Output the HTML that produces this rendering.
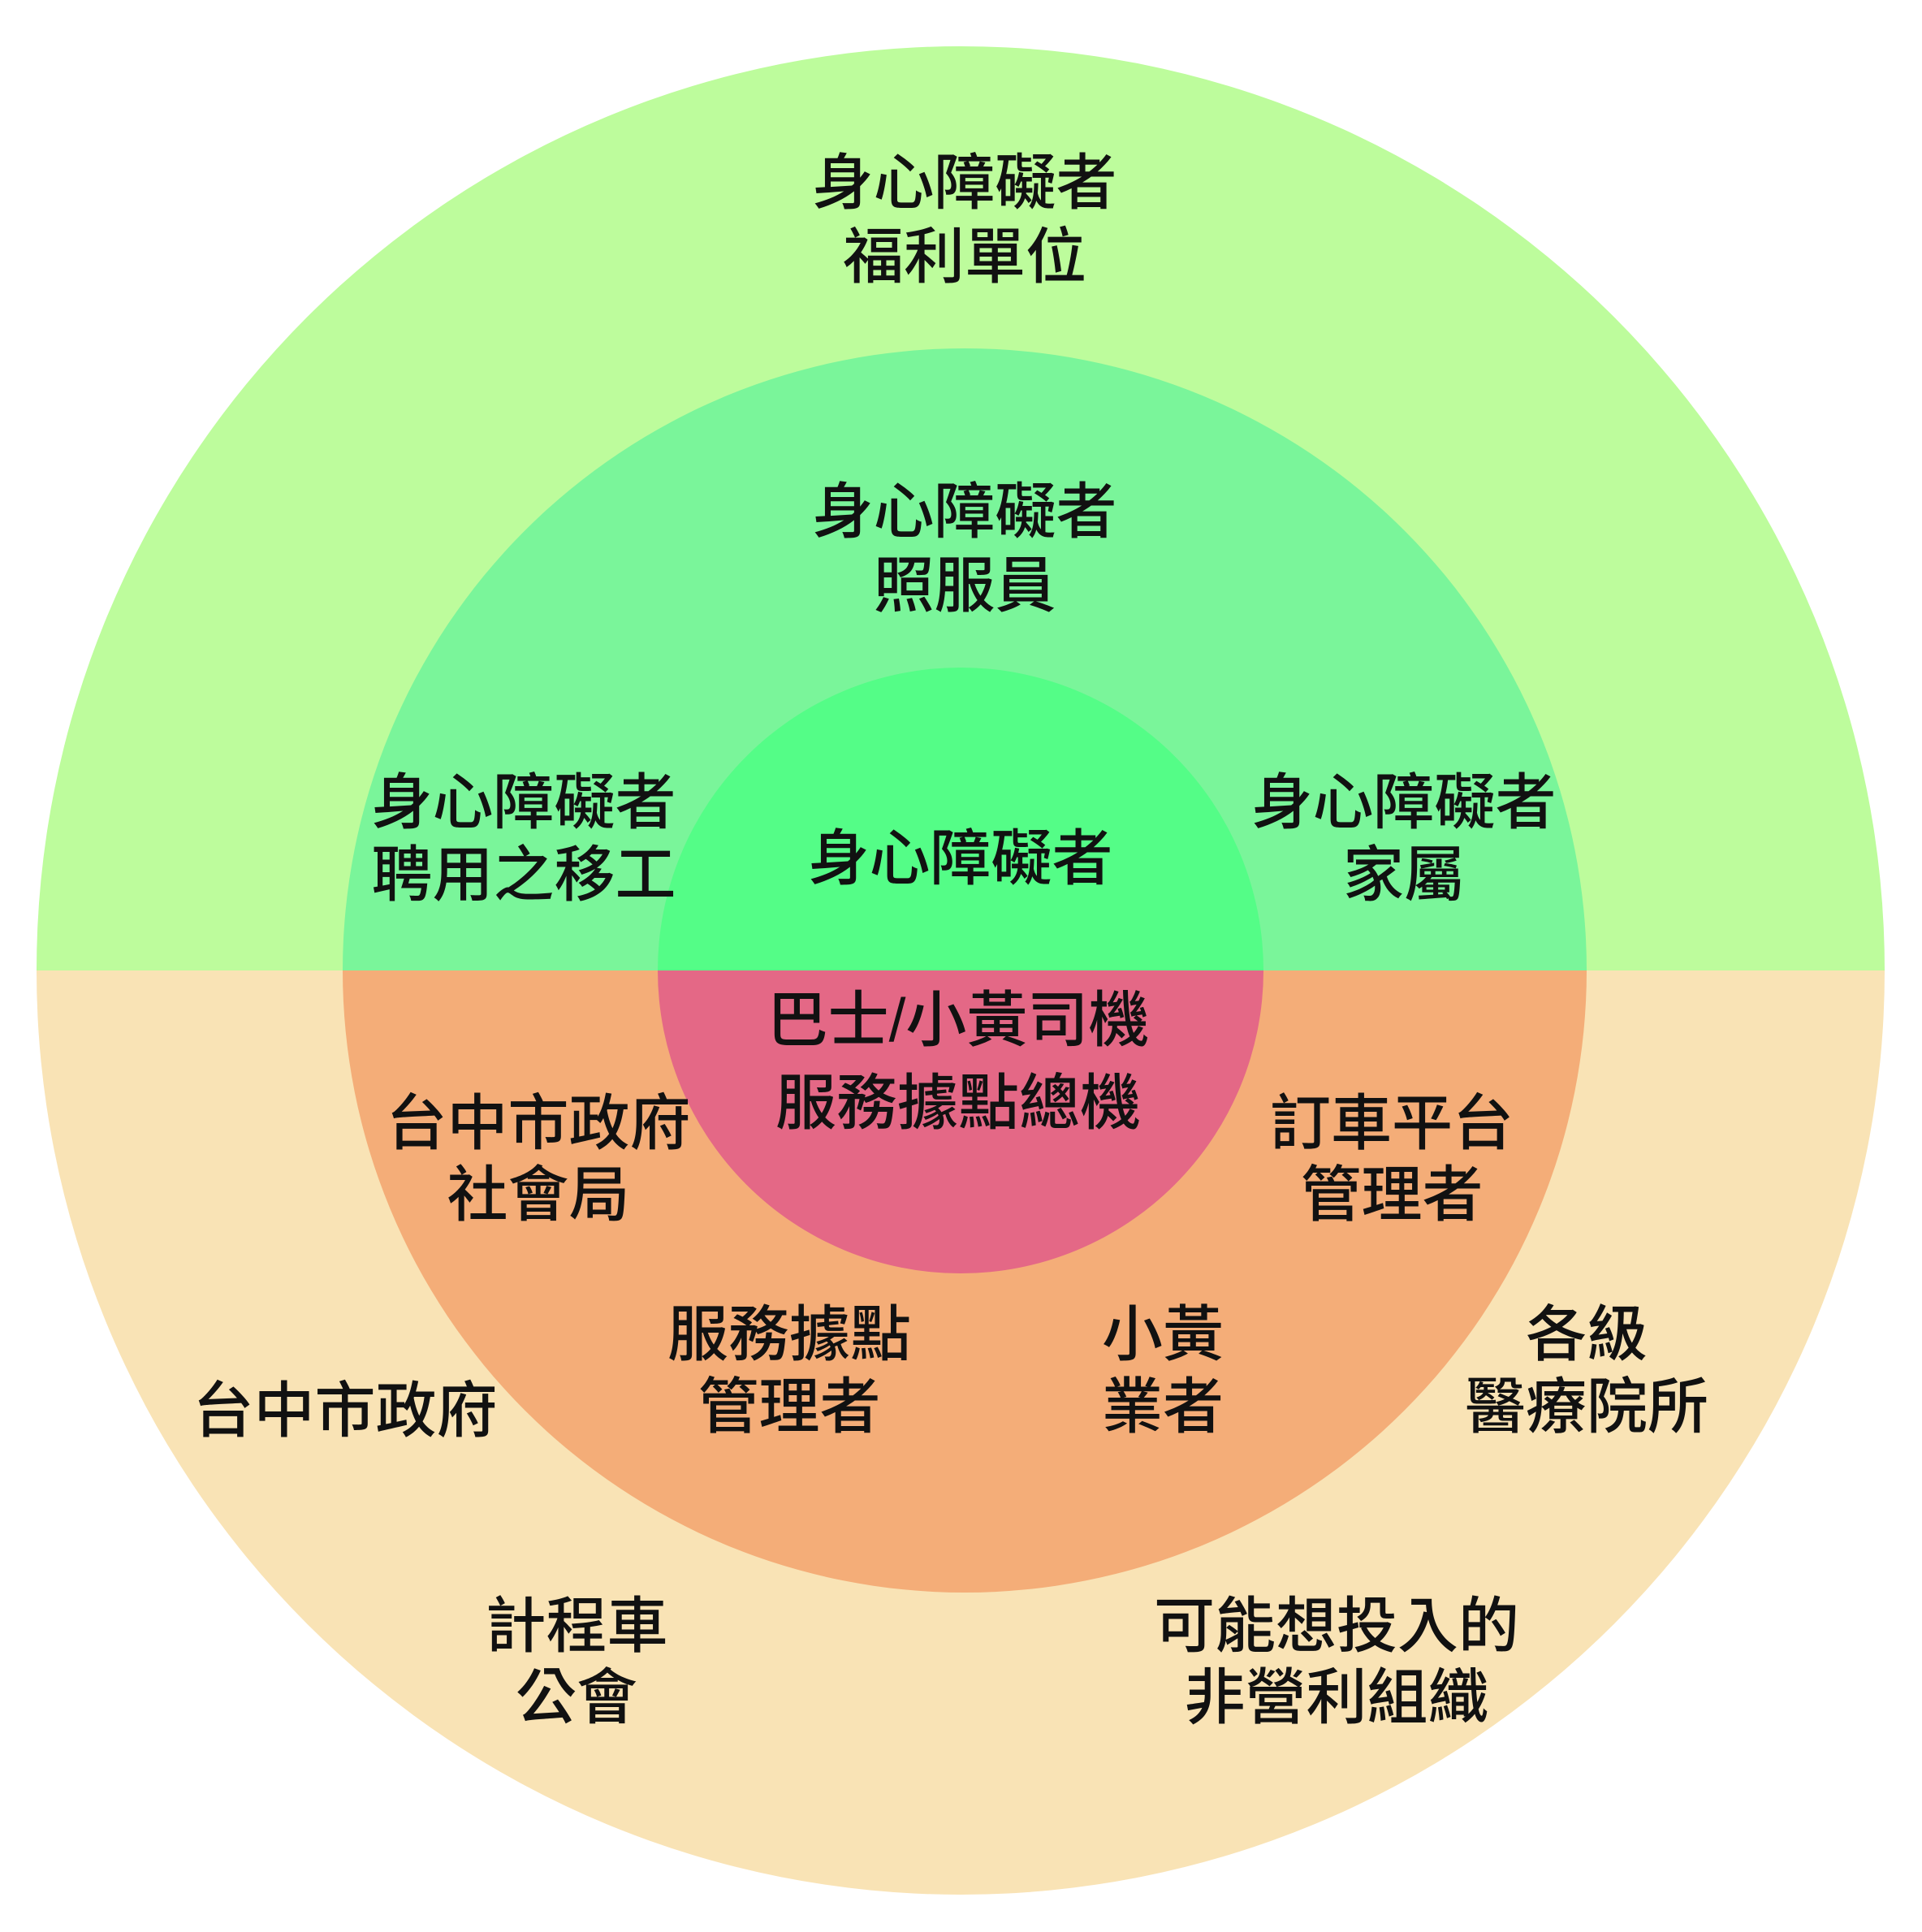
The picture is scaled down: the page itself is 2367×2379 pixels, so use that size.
<!DOCTYPE html>
<html><head><meta charset="utf-8">
<style>
html,body{margin:0;padding:0;background:#fff;}
svg{display:block;}
text{font-family:"Liberation Sans","Noto Sans CJK TC",sans-serif;font-size:75px;font-weight:500;fill:#111;text-anchor:middle;dominant-baseline:central;}
</style></head><body>
<svg width="2367" height="2379" viewBox="0 0 2367 2379" xmlns="http://www.w3.org/2000/svg">
<path d="M45,1195 A1138,1138 0 0 1 2321,1195 Z" fill="#bdfc9c"/>
<path d="M45,1195 A1138,1138 0 0 0 2321,1195 Z" fill="#f9e3b5"/>
<path d="M422,1195 A766,766 0 0 1 1954,1195 Z" fill="#7af59a"/>
<path d="M422,1195 A766,766 0 0 0 1954,1195 Z" fill="#f4ad78"/>
<path d="M810,1195 A373,373 0 0 1 1556,1195 Z" fill="#54fd87"/>
<path d="M810,1195 A373,373 0 0 0 1556,1195 Z" fill="#e46886"/>

<text x="1188" y="225">身心障礙者</text>
<text x="1188" y="316">福利單位</text>

<text x="1188" y="630">身心障礙者</text>
<text x="1188" y="721">照服員</text>

<text x="645" y="988">身心障礙者</text>
<text x="645" y="1077">聘用之移工</text>

<text x="1729" y="988">身心障礙者</text>
<text x="1729" y="1077">家屬</text>

<text x="1183" y="1057">身心障礙者</text>

<text x="1180" y="1256">巴士/小黃司機</text>
<text x="1180" y="1358">服務據點總機</text>

<text x="663" y="1383">台中市政府</text>
<text x="663" y="1471">社會局</text>

<text x="1714" y="1383">訂車平台</text>
<text x="1714" y="1471">管理者</text>

<text x="972" y="1643">服務據點</text>
<text x="972" y="1732">管理者</text>

<text x="1432" y="1643">小黃</text>
<text x="1432" y="1732">業者</text>

<text x="425" y="1737">台中市政府</text>

<text x="1954" y="1643">各級</text>
<text x="1954" y="1732">醫療院所</text>

<text x="710" y="2002">計程車</text>
<text x="710" y="2090">公會</text>

<text x="1646" y="2002">可能想投入的</text>
<text x="1646" y="2090">非營利組織</text>
</svg>
</body></html>
